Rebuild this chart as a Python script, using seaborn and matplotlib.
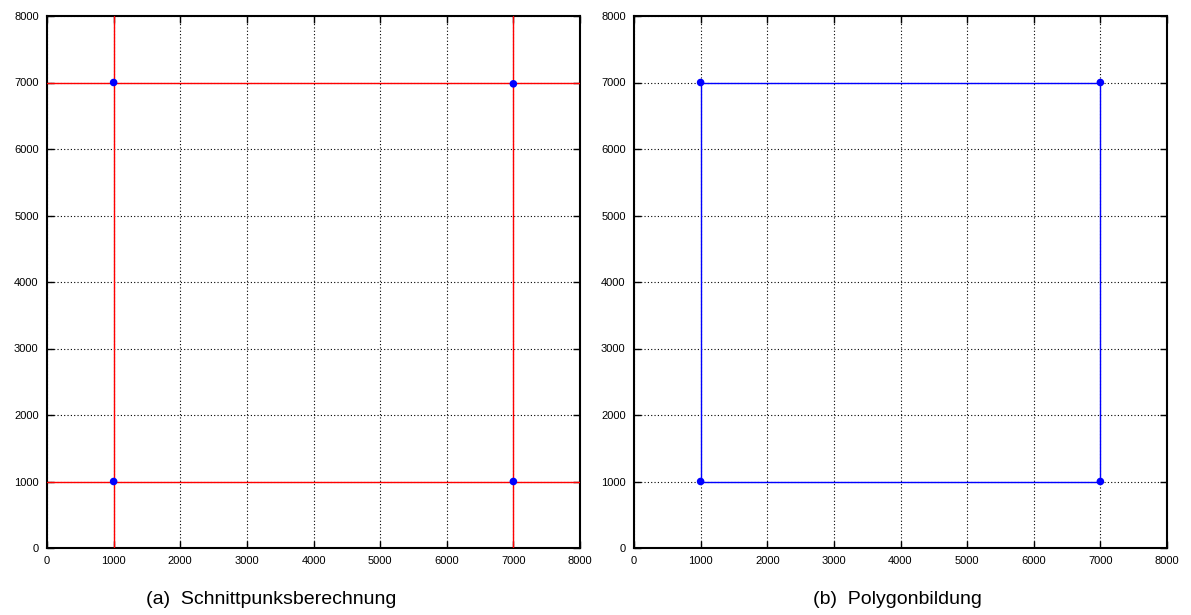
import matplotlib
matplotlib.use("Agg")
import matplotlib.pyplot as plt
import seaborn as sns
import pandas as pd

# Intersection lines (left panel): each line given by its two end points
line_x0 = [0, 0, 1000, 7000]
line_y0 = [7000, 1000, 0, 0]
line_x1 = [8000, 8000, 1000, 7000]
line_y1 = [7000, 1000, 8000, 8000]

# Computed intersection points (left panel)
inter_x = [1000, 7000, 1000, 7000]
inter_y = [7000, 6980, 1000, 1000]

# Resulting polygon (right panel), closed
poly_x = [1000, 1000, 7000, 7000, 1000]
poly_y = [1000, 7000, 7000, 1000, 1000]

ticks = [0, 1000, 2000, 3000, 4000, 5000, 6000, 7000, 8000]
captions = ["(a)  Schnittpunksberechnung", "(b)  Polygonbildung"]

sns.set_style("ticks")
plt.rcParams["font.family"] = ["Liberation Sans", "DejaVu Sans"]
plt.rcParams["text.color"] = "black"

fig = plt.figure(figsize=(11.91, 6.15), dpi=100)
ax_l = fig.add_axes([47 / 1191, 67 / 615, 533 / 1191, 532 / 615])
ax_r = fig.add_axes([634 / 1191, 67 / 615, 533 / 1191, 532 / 615])


def style_axes(ax):
    ax.set_xlim(0, 8000)
    ax.set_ylim(0, 8000)
    ax.set_xticks(ticks)
    ax.set_yticks(ticks)
    ax.set_xticklabels([str(t) for t in ticks])
    ax.set_yticklabels([str(t) for t in ticks])
    ax.grid(True, color="black", linestyle=(0, (1, 2)), linewidth=0.8)
    ax.set_axisbelow(True)
    ax.tick_params(direction="in", length=5, width=1, labelsize=8,
                   top=True, right=True, colors="black", pad=6)
    for s in ax.spines.values():
        s.set_visible(True)
        s.set_color("black")
        s.set_linewidth(1.5)
    ax.set_xlabel("")
    ax.set_ylabel("")


# Left panel: straight lines and their intersections
for i in range(len(line_x0)):
    seg = pd.DataFrame({"x": [line_x0[i], line_x1[i]], "y": [line_y0[i], line_y1[i]]})
    sns.lineplot(data=seg, x="x", y="y", sort=False, estimator=None,
                 color="red", linewidth=1.0, ax=ax_l, zorder=3)
pts = pd.DataFrame({"x": inter_x, "y": inter_y})
sns.scatterplot(data=pts, x="x", y="y", color="blue", s=30, edgecolor="none",
                ax=ax_l, zorder=4)
style_axes(ax_l)

# Right panel: polygon built from the points
poly = pd.DataFrame({"x": poly_x, "y": poly_y})
sns.lineplot(data=poly, x="x", y="y", sort=False, estimator=None,
             color="blue", linewidth=1.0, ax=ax_r, zorder=3)
sns.scatterplot(data=poly.iloc[:-1], x="x", y="y", color="blue", s=30,
                edgecolor="none", ax=ax_r, zorder=4)
style_axes(ax_r)

fig.text(271 / 1191, 1 - 600 / 615, captions[0], ha="center", va="center", fontsize=14)
fig.text(897 / 1191, 1 - 600 / 615, captions[1], ha="center", va="center", fontsize=14)

fig.savefig("out.png", dpi=100)
